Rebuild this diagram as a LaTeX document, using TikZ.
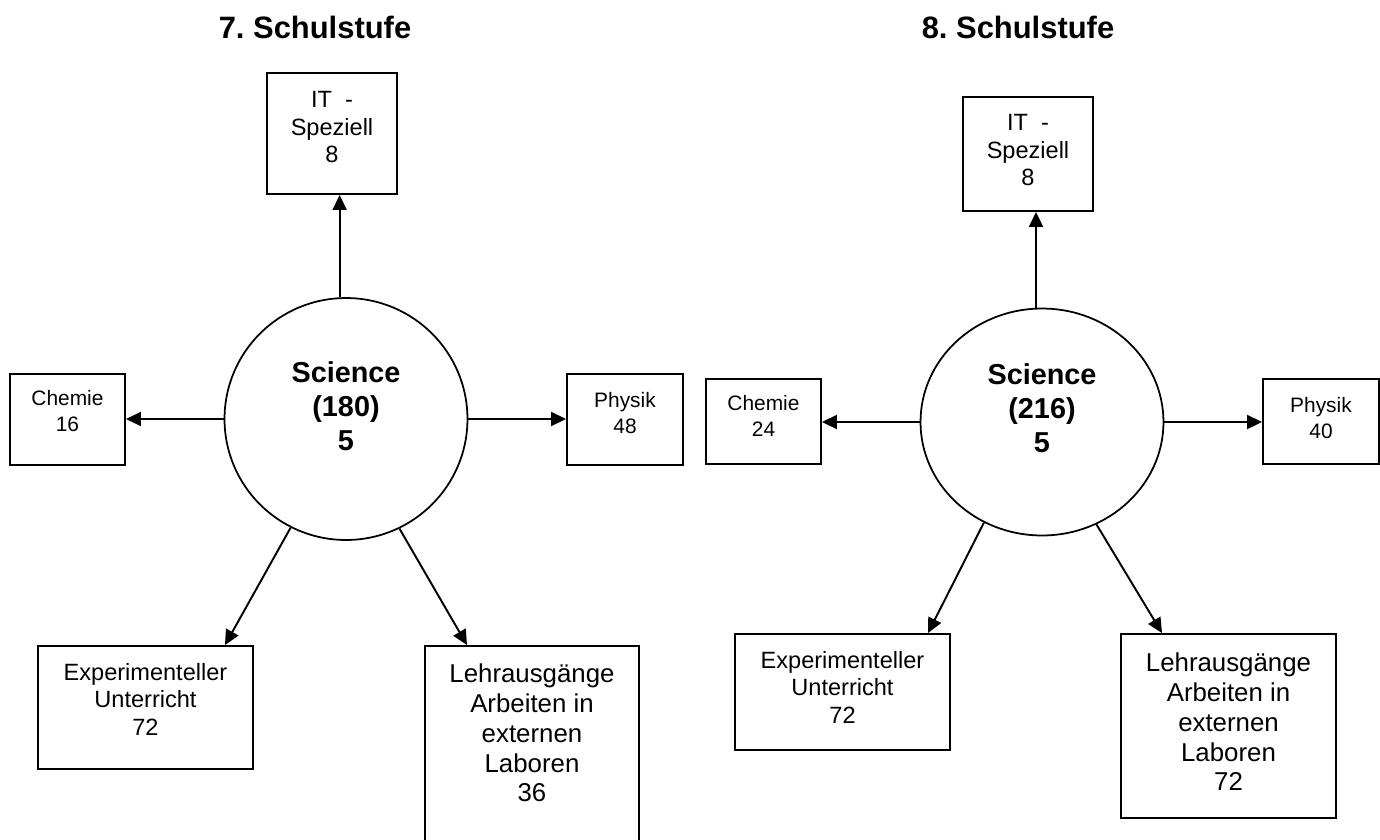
\documentclass[tikz,border=0pt]{standalone}
\usepackage{fontspec}
\setmainfont{Liberation Sans}
\usetikzlibrary{arrows.meta,shapes.geometric}
\frenchspacing

\begin{document}
\begin{tikzpicture}[x=0.02cm, y=-0.02cm, >={Triangle[length=0.3cm,width=0.28cm]}, line width=1.1pt,
 kasten/.style={draw, rectangle, inner sep=0pt},
 kreis/.style={draw, ellipse, inner sep=0pt, line width=1pt},
 txt/.style={anchor=north, inner sep=0pt, align=center, font=\fontsize{13.4}{15.6}\selectfont},
 klein/.style={font=\fontsize{11.9}{14.7}\selectfont},
 gross/.style={font=\fontsize{14.7}{17}\selectfont},
 fett/.style={inner sep=0pt, align=center, font=\bfseries\fontsize{16.4}{19.3}\selectfont},
 titel/.style={font=\bfseries\fontsize{17.6}{20}\selectfont}]
\useasboundingbox (0,0) rectangle (1380,839);
% Überschriften
\node[titel] (t7) at (315,27) {7. Schulstufe};
\node[titel] (t8) at (1018,27) {8. Schulstufe};
% 7. Schulstufe
\node[kreis, minimum width=4.86cm, minimum height=4.84cm, label={[fett, yshift=0.26cm]center:Science\\(180)\\5}] (sci7) at (346,419) {};
\node[kasten, minimum width=2.6cm, minimum height=2.42cm, label={[txt, yshift=-0.37cm]north:IT\ \ -\\Speziell\\8}] (it7) at (332,133.5) {};
\node[kasten, minimum width=2.3cm, minimum height=1.82cm, label={[txt, klein, yshift=-0.33cm]north:Chemie\\16}] (chem7) at (67.5,419.5) {};
\node[kasten, minimum width=2.32cm, minimum height=1.82cm, label={[txt, klein, yshift=-0.37cm]north:Physik\\48}] (phys7) at (625,419.5) {};
\node[kasten, minimum width=4.3cm, minimum height=2.46cm, label={[txt, yshift=-0.35cm]north:Experimenteller\\Unterricht\\72}] (exp7) at (145.5,707.5) {};
\node[kasten, minimum width=4.28cm, minimum height=4.28cm, label={[txt, gross, yshift=-0.354cm]north:Lehrausgänge\\Arbeiten in\\externen\\Laboren\\36}] (lehr7) at (532,753) {};
\draw[->] (sci7.93) -- (sci7.93 |- it7.south);
\draw[->] (sci7.west) -- (sci7.west -| chem7.east);
\draw[->] (sci7.east) -- (sci7.east -| phys7.west);
\draw[->] (sci7.243) -- ([xshift=1.59cm]exp7.north);
\draw[->] (sci7.296) -- ([xshift=-1.3cm]lehr7.north);
% 8. Schulstufe
\node[kreis, minimum width=4.86cm, minimum height=4.54cm, label={[fett, yshift=0.28cm]center:Science\\(216)\\5}] (sci8) at (1042,422) {};
\node[kasten, minimum width=2.6cm, minimum height=2.28cm, label={[txt, yshift=-0.35cm]north:IT\ \ -\\Speziell\\8}] (it8) at (1028,154) {};
\node[kasten, minimum width=2.3cm, minimum height=1.7cm, label={[txt, klein, yshift=-0.33cm]north:Chemie\\24}] (chem8) at (763.5,421.5) {};
\node[kasten, minimum width=2.32cm, minimum height=1.7cm, label={[txt, klein, yshift=-0.37cm]north:Physik\\40}] (phys8) at (1321,421.5) {};
\node[kasten, minimum width=4.3cm, minimum height=2.32cm, label={[txt, yshift=-0.35cm]north:Experimenteller\\Unterricht\\72}] (exp8) at (842.5,692) {};
\node[kasten, minimum width=4.3cm, minimum height=3.68cm, label={[txt, gross, yshift=-0.374cm]north:Lehrausgänge\\Arbeiten in\\externen\\Laboren\\72}] (lehr8) at (1228.5,726) {};
\draw[->] (sci8.93) -- (sci8.93 |- it8.south);
\draw[->] (sci8.west) -- (sci8.west -| chem8.east);
\draw[->] (sci8.east) -- (sci8.east -| phys8.west);
\draw[->] (sci8.240) -- ([xshift=1.71cm]exp8.north);
\draw[->] (sci8.298) -- ([xshift=-1.33cm]lehr8.north);
\end{tikzpicture}
\end{document}
